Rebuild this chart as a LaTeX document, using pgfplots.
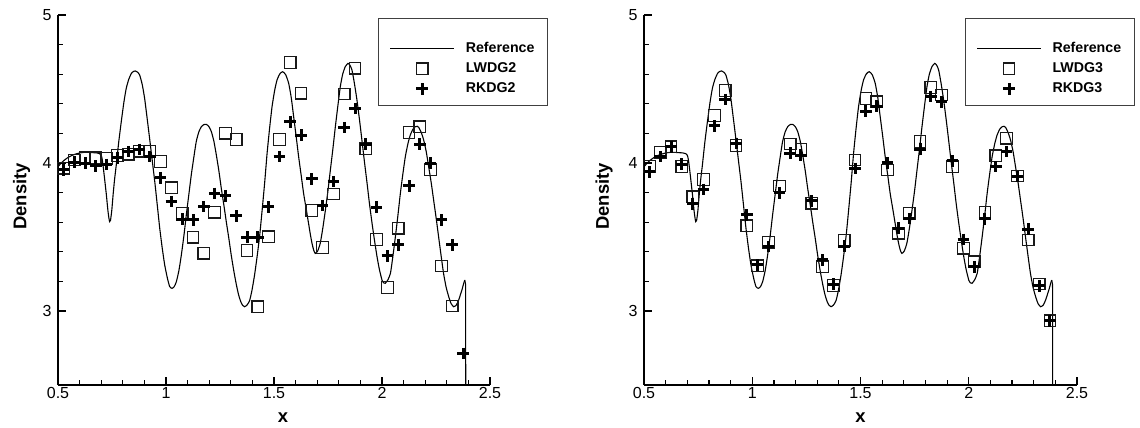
\documentclass[border=0pt]{standalone}
\usepackage{fontspec}
\setmainfont{Liberation Sans}
\usepackage{pgfplots}
\usepackage{pgfplotstable}
\pgfplotsset{compat=1.18}

\pgfplotstableread{
x y
0.500 3.975
0.515 4.000
0.530 4.020
0.545 4.036
0.560 4.048
0.575 4.057
0.590 4.064
0.605 4.069
0.623 4.072
0.640 4.072
0.660 4.070
0.680 4.068
0.693 4.063
0.700 4.052
0.704 4.030
0.708 3.990
0.716 3.890
0.724 3.784
0.731 3.680
0.736 3.625
0.739 3.604
0.743 3.612
0.749 3.680
0.755 3.784
0.762 3.890
0.770 3.990
0.781 4.140
0.793 4.280
0.805 4.410
0.816 4.505
0.828 4.567
0.840 4.606
0.850 4.619
0.858 4.622
0.868 4.614
0.878 4.595
0.890 4.530
0.901 4.437
0.912 4.310
0.924 4.167
0.936 4.020
0.948 3.874
0.960 3.710
0.971 3.559
0.983 3.420
0.994 3.311
1.006 3.225
1.017 3.165
1.028 3.153
1.038 3.165
1.048 3.198
1.060 3.275
1.071 3.378
1.083 3.510
1.094 3.649
1.106 3.790
1.117 3.919
1.129 4.040
1.140 4.144
1.152 4.210
1.164 4.246
1.176 4.260
1.187 4.261
1.199 4.245
1.210 4.212
1.222 4.145
1.233 4.054
1.245 3.945
1.256 3.829
1.268 3.715
1.279 3.604
1.291 3.490
1.302 3.378
1.314 3.270
1.326 3.176
1.336 3.110
1.346 3.063
1.355 3.038
1.364 3.029
1.375 3.040
1.387 3.070
1.398 3.140
1.410 3.243
1.422 3.370
1.434 3.514
1.445 3.680
1.457 3.870
1.468 4.065
1.480 4.240
1.491 4.381
1.503 4.490
1.514 4.561
1.527 4.602
1.540 4.617
1.554 4.597
1.568 4.538
1.580 4.440
1.591 4.313
1.603 4.175
1.614 4.043
1.626 3.915
1.637 3.795
1.649 3.690
1.660 3.592
1.668 3.520
1.676 3.457
1.684 3.410
1.691 3.389
1.702 3.405
1.714 3.457
1.726 3.560
1.738 3.682
1.750 3.815
1.761 3.953
1.773 4.100
1.784 4.245
1.796 4.390
1.807 4.516
1.818 4.600
1.830 4.651
1.843 4.673
1.852 4.660
1.861 4.628
1.872 4.540
1.884 4.426
1.896 4.290
1.907 4.155
1.919 4.005
1.931 3.862
1.942 3.725
1.954 3.592
1.966 3.470
1.977 3.367
1.988 3.280
2.000 3.209
2.008 3.190
2.015 3.187
2.027 3.210
2.039 3.254
2.050 3.365
2.062 3.502
2.074 3.650
2.085 3.795
2.097 3.930
2.108 4.043
2.120 4.130
2.131 4.189
2.143 4.228
2.154 4.245
2.163 4.248
2.170 4.241
2.182 4.205
2.193 4.155
2.205 4.075
2.216 3.975
2.228 3.865
2.239 3.750
2.251 3.625
2.262 3.502
2.274 3.370
2.285 3.254
2.297 3.160
2.309 3.096
2.320 3.050
2.332 3.029
2.344 3.040
2.355 3.074
2.363 3.110
2.370 3.142
2.377 3.180
2.383 3.209
}\refcurve

\newcommand{\lblfont}{\fontsize{9.2}{10}\selectfont\bfseries}

\pgfplotsset{
  shuaxis/.style={
    scale only axis, width=216pt, height=185pt,
    xmin=0.5, xmax=2.5, ymin=2.5, ymax=5,
    axis x line*=bottom, axis y line*=left,
    axis line style={line width=0.9pt, -},
    every outer x axis line/.append style={-},
    every outer y axis line/.append style={-},
    xtick={0.5,1,1.5,2,2.5}, ytick={3,4,5},
    minor x tick num=4, minor y tick num=4,
    tick align=inside,
    major tick length=4pt, minor tick length=2.5pt,
    every tick/.style={black, line width=0.6pt},
    tick label style={font=\fontsize{8}{9}\selectfont},
    /pgf/number format/assume math mode=true,
    xticklabel style={inner sep=1pt},
    yticklabel style={inner sep=1pt, xshift=-2pt},
    xlabel={\textbf{x}}, ylabel={\textbf{Density}},
    clip=true,
    legend cell align=left,
    legend image code/.code={\draw[mark repeat=2,mark phase=2,#1] plot coordinates {(0pt,0pt) (16pt,0pt) (32pt,0pt)};},
    legend style={anchor=north west, draw=black!75, line width=0.6pt, fill=white,
      font=\fontsize{7.1}{8}\selectfont\bfseries, inner xsep=5.5pt, inner ysep=4pt,
      row sep=1.6pt, column sep=4.5pt, nodes={inner sep=1pt}},
  },
  refstyle/.style={black, line width=0.55pt, smooth, tension=0.35},
  sqstyle/.style={only marks, mark=square, mark size=2.9pt, mark options={line width=0.6pt, black!90}},
  plstyle/.style={only marks, mark=+, mark size=2.9pt, mark options={line width=1.5pt, black}},
}

\begin{document}
\begin{tikzpicture}
\path[use as bounding box] (0,0) rectangle (570pt,214pt);
\begin{axis}[shuaxis, at={(29pt,21.5pt)}, anchor=south west,
  legend style={at={(0.741,0.992)}},
  every axis y label/.style={at={(axis description cs:-0.084,0.51)}, rotate=90, anchor=center, font=\lblfont},
  every axis x label/.style={at={(axis description cs:0.521,0)}, anchor=center, yshift=-16.5pt, font=\lblfont}]
\addlegendimage{empty legend}\addlegendentry{\rule{0pt}{1.5pt}}
\addplot[refstyle] table {\refcurve};
\addlegendentry{\textbf{Reference}}
\addplot[sqstyle] coordinates {
(0.525,3.965) (0.575,4.020) (0.625,4.035) (0.675,4.035) (0.725,4.030)
(0.775,4.050) (0.825,4.060) (0.875,4.080) (0.925,4.080) (0.975,4.010)
(1.025,3.833) (1.075,3.660) (1.125,3.498) (1.175,3.390) (1.225,3.667)
(1.275,4.201) (1.325,4.160) (1.375,3.408) (1.425,3.029) (1.475,3.502)
(1.525,4.160) (1.575,4.678) (1.625,4.471) (1.675,3.678) (1.725,3.428)
(1.775,3.791) (1.825,4.466) (1.875,4.640) (1.925,4.099) (1.975,3.484)
(2.025,3.160) (2.075,3.559) (2.125,4.207) (2.175,4.245) (2.225,3.957)
(2.275,3.304) (2.325,3.034)};
\addlegendentry{\textbf{LWDG2}}
\addplot[plstyle] coordinates {
(0.525,3.953) (0.575,4.005) (0.625,3.998) (0.675,3.980) (0.725,3.990)
(0.775,4.034) (0.825,4.077) (0.875,4.092) (0.925,4.043) (0.975,3.900)
(1.025,3.739) (1.075,3.620) (1.125,3.615) (1.175,3.705) (1.225,3.795)
(1.275,3.779) (1.325,3.642) (1.375,3.498) (1.425,3.498) (1.475,3.703)
(1.525,4.043) (1.575,4.279) (1.625,4.189) (1.675,3.892) (1.725,3.712)
(1.775,3.874) (1.825,4.239) (1.875,4.369) (1.925,4.128) (1.975,3.701)
(2.025,3.372) (2.075,3.446) (2.125,3.845) (2.175,4.128) (2.225,3.998)
(2.275,3.615) (2.325,3.446) (2.375,2.714)};
\addlegendentry{\textbf{RKDG2}}
\addplot[black, line width=0.55pt, forget plot] coordinates {(2.383,3.209) (2.387,3.180) (2.389,1.000)};
\end{axis}

\begin{axis}[shuaxis, width=216.5pt, at={(322pt,21.5pt)}, anchor=south west,
  legend style={at={(0.741,0.992)}},
  every axis y label/.style={at={(axis description cs:-0.092,0.51)}, rotate=90, anchor=center, font=\lblfont},
  every axis x label/.style={at={(axis description cs:0.5,0)}, anchor=center, yshift=-16.5pt, font=\lblfont}]
\addlegendimage{empty legend}\addlegendentry{\rule{0pt}{1.5pt}}
\addplot[refstyle] table {\refcurve};
\addlegendentry{\textbf{Reference}}
\addplot[sqstyle] coordinates {
(0.525,3.975) (0.575,4.070) (0.625,4.110) (0.675,3.975) (0.725,3.772)
(0.775,3.889) (0.825,4.320) (0.875,4.489) (0.925,4.117) (0.975,3.576)
(1.025,3.306) (1.075,3.464) (1.125,3.845) (1.175,4.128) (1.225,4.093)
(1.275,3.728) (1.325,3.299) (1.375,3.171) (1.425,3.475) (1.475,4.020)
(1.525,4.437) (1.575,4.414) (1.625,3.953) (1.675,3.525) (1.725,3.660)
(1.775,4.144) (1.825,4.511) (1.875,4.459) (1.925,3.975) (1.975,3.424)
(2.025,3.333) (2.075,3.667) (2.125,4.049) (2.175,4.167) (2.225,3.912)
(2.275,3.480) (2.325,3.182) (2.375,2.934)};
\addlegendentry{\textbf{LWDG3}}
\addplot[plstyle] coordinates {
(0.525,3.941) (0.575,4.043) (0.625,4.110) (0.675,3.993) (0.725,3.723)
(0.775,3.822) (0.825,4.250) (0.875,4.430) (0.925,4.133) (0.975,3.649)
(1.025,3.311) (1.075,3.435) (1.125,3.799) (1.175,4.066) (1.225,4.054)
(1.275,3.745) (1.325,3.345) (1.375,3.182) (1.425,3.439) (1.475,3.964)
(1.525,4.350) (1.575,4.385) (1.625,4.002) (1.675,3.559) (1.725,3.626)
(1.775,4.093) (1.825,4.448) (1.875,4.414) (1.925,4.014) (1.975,3.484)
(2.025,3.299) (2.075,3.622) (2.125,3.975) (2.175,4.077) (2.225,3.908)
(2.275,3.552) (2.325,3.169) (2.375,2.934)};
\addlegendentry{\textbf{RKDG3}}
\addplot[black, line width=0.55pt, forget plot] coordinates {(2.383,3.209) (2.387,3.180) (2.389,1.000)};
\end{axis}
\end{tikzpicture}
\end{document}
